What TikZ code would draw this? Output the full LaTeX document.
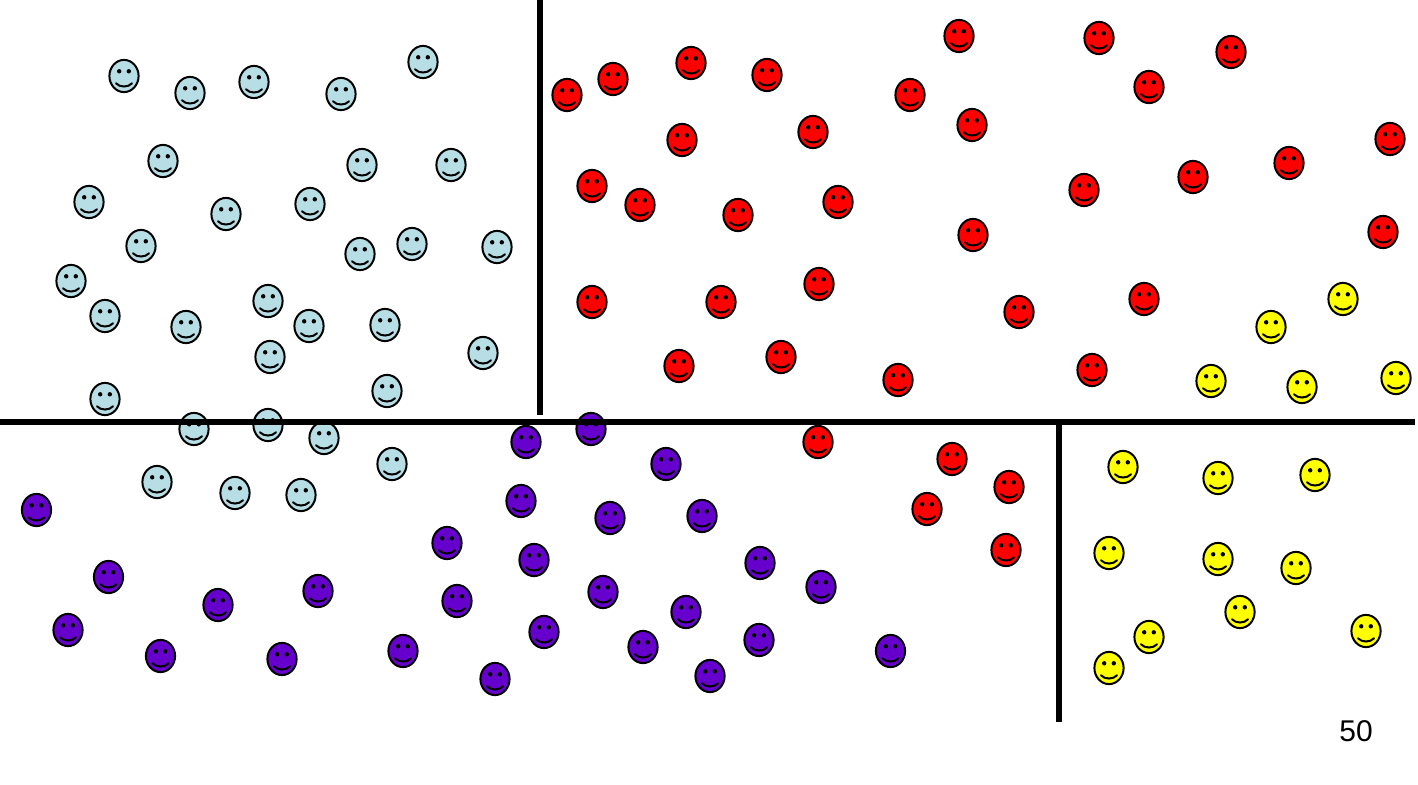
\documentclass[tikz,border=0pt]{standalone}
\usepackage{fontspec}
\setmainfont{Liberation Sans}
\definecolor{paleblue}{HTML}{B7DEE4}
\definecolor{facered}{HTML}{FF0000}
\definecolor{faceyellow}{HTML}{FFFF00}
\definecolor{facepurple}{HTML}{6600CC}
\tikzset{facepen/.style = {draw=black, line width=2pt}}
\tikzset{divider/.style = {draw=black, line width=6pt}}
\tikzset{pics/smiley/.style = {code = {
    \path[facepen, fill=#1] (0,0) circle [x radius=14.6pt, y radius=16.1pt];
    \path[fill=black] (-4.8,-4.7) circle [radius=2.2pt] (4.8,-4.7) circle [radius=2.2pt];
    \path[facepen, line cap=round] (-8,7.3) .. controls (-4,11.6) and (4,11.6) .. (8,7.3);
}}}

\begin{document}
\begin{tikzpicture}[x=1pt, y=-1pt]
    \useasboundingbox (0,0) rectangle (1418,784);

    \foreach \X/\Y in {124/76, 190/93, 254/82, 341/94, 423/62, 163/161, 362/165, 451/165,
        89/202, 226/214, 310/204, 141/246, 360/254, 412/244, 497/247, 71/281, 105/316,
        186/327, 268/301, 309/326, 385/325, 270/357, 483/353, 105/399, 387/391, 194/429,
        268/425, 324/438, 392/464, 157/482, 235/493, 301/495}
        \pic at (\X,\Y) {smiley=paleblue};

    \foreach \X/\Y in {567/95, 613/79, 691/63, 767/75, 910/95, 959/36, 1099/38, 1149/87,
        1231/52, 682/140, 813/132, 972/125, 1390/139, 592/186, 640/205, 738/215, 838/202,
        1084/190, 1193/177, 1289/163, 973/235, 1383/232, 592/302, 721/302, 819/284,
        1019/312, 1144/299, 679/366, 781/357, 898/380, 1092/370, 818/442, 952/459,
        1009/487, 927/509, 1006/550}
        \pic at (\X,\Y) {smiley=facered};

    \foreach \X/\Y in {1343/299, 1271/327, 1211/381, 1302/387, 1396/378, 1123/467,
        1218/478, 1315/475, 1109/553, 1218/559, 1296/568, 1240/612, 1366/631, 1149/637,
        1109/668}
        \pic at (\X,\Y) {smiley=faceyellow};

    \foreach \X/\Y in {526/442, 591/429, 666/464, 36.5/510, 521/501, 610/518, 702/516,
        447/543, 534/560, 760/563, 108.5/577, 821/587, 218/605, 318/591, 603/592, 457/601,
        686/612, 68/630, 544/632, 759/640, 160.5/656, 282/659, 403/651, 643/647, 890.5/651,
        495/679, 710/676}
        \pic at (\X,\Y) {smiley=facepurple};

    \path[divider] (540,0) -- (540,415);
    \path[divider] (0,422) -- (1415,422);
    \path[divider] (1059,422) -- (1059,722);

    \node (count) at (1356,731) {\fontsize{30pt}{36pt}\selectfont 50};
\end{tikzpicture}
\end{document}
